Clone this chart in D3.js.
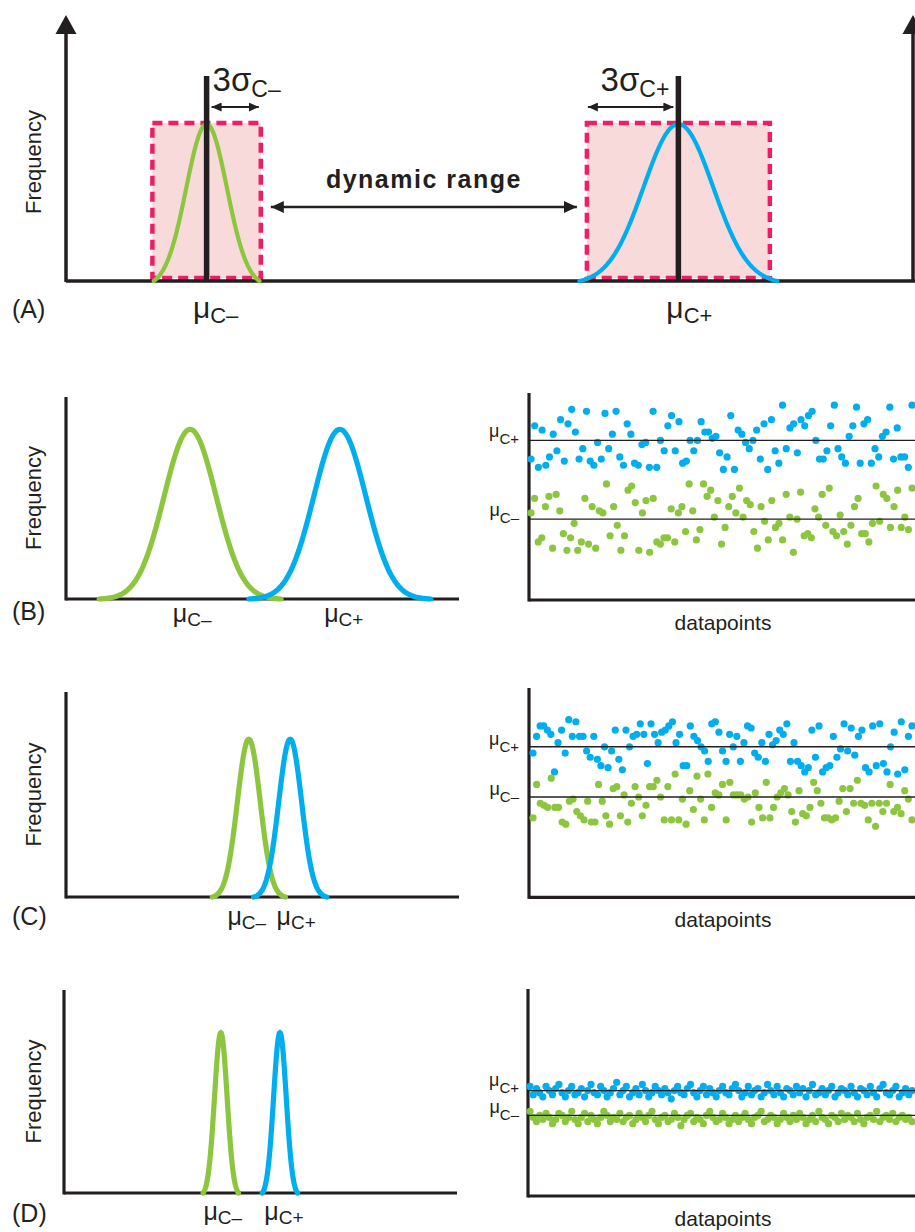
<!DOCTYPE html>
<html>
<head>
<meta charset="utf-8">
<script src="https://cdn.jsdelivr.net/npm/d3@7"></script>
<style>
  body { margin: 0; background: #fff; }
  svg { display: block; }
  text { font-family: "Liberation Sans", Arial, sans-serif; fill: #231f20; }
</style>
</head>
<body>
<script>
// panels A-D: two class distributions on a signal axis (0-100)
const panelNames = ["(A)", "(B)", "(C)", "(D)"];
const meanMinus = [16.6, 31.5, 46.4, 39.8];
const meanPlus = [72.3, 69.5, 56.9, 54.8];
const sigmaMinus = [2.4, 6.6, 2.9, 1.6];
const sigmaPlus = [4.1, 6.6, 2.9, 1.6];
const tailMinus = [2.6, 3.5, 3.2, 2.8];   // where each drawn curve stops, in sigmas
const tailPlus = [2.85, 3.5, 3.2, 2.8];
const peakFreq = [0.59, 0.84, 0.77, 0.79];
// panel A only: the pink 3 sigma windows (half widths, signal units)
const windowHalf = [6.4, 10.8];

// scatter panels B-D, signal 0-10
const scatterMeanPlus = [7.7, 7.2, 5.1];
const scatterMeanMinus = [3.9, 4.8, 3.9];

const bPlus = [6.8,8.4,6.4,8.2,6.5,6.9,8.0,7.2,8.7,6.7,8.5,9.2,8.1,6.8,7.3,9.1,6.7,6.5,7.6,6.8,9.0,7.3,8.0,9.1,6.9,6.5,8.5,8.0,6.6,6.5,7.5,7.6,6.4,9.1,6.4,7.7,7.2,8.4,8.9,7.2,8.6,6.6,6.7,7.7,7.2,7.7,8.6,8.1,8.1,7.8,7.9,7.1,6.3,6.9,8.9,6.3,8.2,8.0,7.6,7.3,7.7,8.2,6.8,8.5,6.3,8.7,7.2,6.6,9.4,7.3,8.3,8.5,7.1,8.7,8.4,8.9,9.1,7.7,6.8,6.8,7.2,8.4,9.4,7.3,6.9,6.6,7.9,8.4,9.3,6.6,8.5,8.7,6.6,7.3,6.9,7.9,8.1,9.3,6.8,8.3,6.9,6.9,6.4,9.4];
const bMinus = [4.2,4.9,2.8,3.0,4.5,5.0,2.5,5.1,4.3,3.2,2.4,3.0,3.7,2.4,2.8,4.9,2.7,4.5,2.5,4.3,4.2,5.6,3.1,4.5,3.6,2.4,3.1,5.3,5.5,4.7,2.4,4.2,4.8,2.3,4.9,2.8,2.7,3.0,3.0,4.4,2.8,4.2,4.5,3.3,5.6,4.3,2.9,3.4,5.6,5.0,5.3,4.0,4.8,2.7,3.5,4.5,5.0,4.2,5.4,4.0,4.8,4.6,3.3,2.5,4.5,3.8,2.9,4.8,3.5,3.7,2.9,5.1,4.0,2.3,3.9,5.2,3.1,3.2,3.0,4.4,4.0,5.1,3.6,5.4,3.3,3.1,4.1,3.3,2.7,3.6,4.5,4.9,3.2,3.2,2.8,3.7,5.5,3.8,5.1,4.9,3.5,4.5,5.3,3.5,4.0,3.4,5.4];
const cPlus = [6.9,7.7,8.2,8.2,8.0,7.8,6.0,7.4,8.0,6.9,8.5,7.7,8.4,7.7,7.7,7.0,6.7,7.7,6.6,6.3,7.2,6.2,7.0,8.0,6.6,6.1,8.0,7.2,7.7,7.8,8.3,7.8,6.4,8.3,7.8,7.4,7.9,8.0,8.2,8.4,7.4,7.8,6.3,6.3,8.2,7.7,7.5,7.2,7.0,6.5,8.3,8.4,7.9,7.0,6.5,7.8,7.2,7.7,6.5,7.4,8.2,8.1,6.9,6.7,7.4,6.5,7.8,7.3,7.5,8.0,7.8,8.3,6.5,7.4,6.5,6.3,6.0,6.2,8.0,6.7,8.2,6.0,6.2,6.3,7.7,6.7,7.1,8.3,7.0,8.1,6.8,7.7,8.0,6.2,6.0,8.2,6.3,8.3,6.4,6.0,7.2,7.9,5.9,8.4,6.1,7.7,8.2];
const cMinus = [3.8,5.4,4.5,4.4,4.3,5.7,4.3,4.3,3.6,3.5,4.6,4.7,4.1,3.9,3.7,4.6,3.6,3.6,5.4,4.6,3.9,3.5,5.2,5.3,3.9,4.9,3.6,4.5,5.3,4.8,3.9,4.4,5.3,5.3,5.6,4.8,3.7,5.3,3.7,5.9,3.7,4.7,3.5,5.1,4.2,5.8,4.7,3.7,5.9,4.3,5.0,4.9,5.4,3.7,5.5,4.9,4.9,4.9,4.7,4.8,3.6,5.0,4.3,3.8,5.5,3.8,4.3,4.8,5.0,5.2,4.9,4.1,3.6,5.1,4.0,3.9,4.3,5.5,5.1,4.5,3.8,3.8,3.7,3.8,4.6,5.2,4.1,5.2,4.5,5.6,4.5,4.4,3.7,4.5,3.4,4.5,4.1,4.5,5.4,4.1,4.3,4.0,5.1,4.7,3.7];
const dPlus = [5.3,4.9,5.2,5.0,4.8,5.3,5.1,4.9,5.2,5.4,5.0,4.8,5.1,5.3,4.9,5.0,5.2,4.8,5.1,5.4,
  5.0,4.9,5.3,5.1,4.8,5.0,5.2,5.5,4.9,5.1,5.3,4.8,5.0,5.2,4.9,5.4,5.1,4.8,5.0,5.3,
  5.1,4.9,5.2,5.0,4.7,5.1,5.3,5.0,4.9,5.2,5.4,5.0,4.8,5.1,5.3,4.9,5.2,5.0,4.8,5.1,
  5.3,5.0,4.9,5.2,5.4,5.1,4.8,5.0,5.3,4.9,5.1,5.2,4.8,5.0,5.4,5.1,4.9,5.3,5.0,4.8,
  5.2,5.1,4.9,5.3,5.0,5.2,4.8,5.1,5.4,4.9,5.0,5.2,4.9,5.1,5.3,4.8,5.0,5.2,5.1,4.9,
  5.3,5.0,4.8,5.2,5.1,4.9,5.3,5.0,4.8,5.2,5.4,5.0,4.9,5.1,5.3,4.8,5.0,5.2,4.9,5.1];
const dMinus = [4.1,3.8,3.6,3.9,3.7,4.0,3.8,3.5,3.7,4.0,3.9,3.6,3.8,4.1,3.7,3.5,3.8,4.0,3.6,3.9,
  3.7,3.5,3.8,4.1,3.9,3.6,3.8,3.7,4.0,3.6,3.8,3.9,3.5,3.7,4.0,3.8,3.6,3.9,4.1,3.7,
  3.5,3.8,3.9,3.6,3.7,4.0,3.8,3.4,3.7,3.9,4.0,3.6,3.8,3.7,3.5,3.9,4.1,3.8,3.6,3.7,
  4.0,3.8,3.5,3.7,3.9,3.6,3.8,4.0,3.7,3.5,3.8,3.9,4.1,3.6,3.7,3.9,3.8,3.5,3.7,4.0,
  3.8,3.6,3.9,3.7,4.0,3.8,3.5,3.7,3.9,3.6,4.1,3.8,3.7,3.5,3.9,3.8,3.6,4.0,3.7,3.9,
  3.8,3.6,4.0,3.7,3.5,3.8,3.9,3.7,4.1,3.6,3.8,3.9,3.7,4.0,3.6,3.8,3.9,3.7,3.8,3.6];
const scatterPlus = [bPlus, cPlus, dPlus];
const scatterMinus = [bMinus, cMinus, dMinus];

const GREEN = "#8cc63f", BLUE = "#00aeef", INK = "#231f20";
const PINK = "#ed1e63", PINK_FILL = "#f9dada";

const svg = d3.select("body").append("svg")
    .attr("width", 915)
    .attr("height", 1232);

const defs = svg.append("defs");
function addArrow(id, w, h) {
  defs.append("marker")
      .attr("id", id)
      .attr("viewBox", `0 0 ${w} ${h}`)
      .attr("refX", w).attr("refY", h / 2)
      .attr("markerWidth", w).attr("markerHeight", h)
      .attr("markerUnits", "userSpaceOnUse")
      .attr("orient", "auto-start-reverse")
    .append("path")
      .attr("d", `M0,0 L${w},${h / 2} L0,${h} Z`)
      .attr("fill", INK);
}
addArrow("arrowBig", 13, 12);
addArrow("arrowSmall", 10, 9);

// frequency panel layouts (pixels)
const freqLayout = [
  { x0: 66, x1: 913, y0: 281, y1: 15, lineEnd: 915, curveW: 4.2, axisW: 3.5 },
  { x0: 66, x1: 460, y0: 599, y1: 397, lineEnd: 459, curveW: 5.2, axisW: 3.2 },
  { x0: 66, x1: 460, y0: 897, y1: 692, lineEnd: 459, curveW: 5.2, axisW: 3.2 },
  { x0: 64, x1: 458, y0: 1193, y1: 990, lineEnd: 457, curveW: 5.2, axisW: 3.2 }
];
const scatterLayout = [
  { ax: 529, y0: 600, y1: 392.7, top: 393, px0: 531, px1: 912, labelOffset: [-3, -3] },
  { ax: 529, y0: 897.3, y1: 688.3, top: 688, px0: 533, px1: 912, labelOffset: [-2, -2] },
  { ax: 528, y0: 1196, y1: 989.3, top: 989, px0: 530, px1: 912, labelOffset: [-5, -2] }
];
const muLabelStyle = [
  { mu: 30, sub: 22, dy: 5, base: 318 },
  { mu: 25, sub: 19, dy: 4, base: 622 },
  { mu: 25, sub: 19, dy: 4, base: 925 },
  { mu: 25, sub: 19, dy: 4, base: 1220 }
];
const letterBase = [318, 620, 925, 1222];

function muLabel(g, x, y, sign, muSize, subSize, dy, anchor) {
  const t = g.append("text")
      .attr("x", x).attr("y", y)
      .attr("text-anchor", anchor);
  t.append("tspan").attr("font-size", muSize).text("μ");
  t.append("tspan").attr("font-size", subSize).attr("dy", dy).text("C" + sign);
  return t;
}

function curveData(mu, sigma, k, peak) {
  const edge = Math.exp(-k * k / 2);
  return d3.range(0, 121).map(i => {
    const z = -k + (2 * k) * i / 120;
    return [mu + z * sigma, peak * (Math.exp(-z * z / 2) - edge) / (1 - edge)];
  });
}

panelNames.forEach((name, p) => {
  const L = freqLayout[p];
  const g = svg.append("g");
  const x = d3.scaleLinear().domain([0, 100]).range([L.x0, L.x1]);
  const y = d3.scaleLinear().domain([0, 1]).range([L.y0, L.y1]);
  const line = d3.line().x(d => x(d[0])).y(d => y(d[1]));

  // axes
  if (p === 0) {
    [L.x0, L.x1].forEach(ax => {
      g.append("line")
          .attr("x1", ax).attr("x2", ax)
          .attr("y1", y(0) + 1).attr("y2", y(1) + 14)
          .attr("stroke", INK).attr("stroke-width", L.axisW);
      g.append("path")
          .attr("d", `M${ax},${y(1)} L${ax - 10.5},${y(1) + 19} L${ax + 10.5},${y(1) + 19} Z`)
          .attr("fill", INK);
    });
  } else {
    g.append("line")
        .attr("x1", L.x0).attr("x2", L.x0)
        .attr("y1", y(0) + 1.5).attr("y2", y(1))
        .attr("stroke", INK).attr("stroke-width", L.axisW);
  }

  // 3 sigma windows (panel A)
  if (p === 0) {
    [[meanMinus[0], windowHalf[0]], [meanPlus[0], windowHalf[1]]].forEach(([m, h]) => {
      g.append("rect")
          .attr("x", x(m - h)).attr("y", y(peakFreq[0]) - 1)
          .attr("width", x(m + h) - x(m - h))
          .attr("height", y(0) - 3 - y(peakFreq[0]) + 1)
          .attr("fill", PINK_FILL)
          .attr("stroke", PINK).attr("stroke-width", 4.5)
          .attr("stroke-dasharray", "10,6");
    });
  }

  g.append("line")
      .attr("x1", L.x0).attr("x2", L.lineEnd)
      .attr("y1", y(0)).attr("y2", y(0))
      .attr("stroke", INK).attr("stroke-width", L.axisW);

  // distributions
  g.append("path")
      .attr("d", line(curveData(meanMinus[p], sigmaMinus[p], tailMinus[p], peakFreq[p])))
      .attr("fill", "none").attr("stroke", GREEN)
      .attr("stroke-width", L.curveW).attr("stroke-linecap", "round");
  g.append("path")
      .attr("d", line(curveData(meanPlus[p], sigmaPlus[p], tailPlus[p], peakFreq[p])))
      .attr("fill", "none").attr("stroke", BLUE)
      .attr("stroke-width", L.curveW).attr("stroke-linecap", "round");

  // labels
  const S = muLabelStyle[p];
  const shift = p === 0 ? 9 : 2;
  muLabel(g, x(meanMinus[p]) + shift - (p === 2 ? 4 : 0), S.base, "–", S.mu, S.sub, S.dy, "middle");
  muLabel(g, x(meanPlus[p]) + shift + (p === 2 ? 4 : 2), S.base, "+", S.mu, S.sub, S.dy, "middle");

  g.append("text")
      .attr("x", 12).attr("y", letterBase[p])
      .attr("font-size", 25)
      .text(name);

  const fy = (y(0) + y(1)) / 2 + (p === 0 ? 14 : 0);
  g.append("text")
      .attr("transform", `translate(41,${fy}) rotate(-90)`)
      .attr("text-anchor", "middle")
      .attr("font-size", 22)
      .text("Frequency");

  if (p === 0) {
    // mean markers, 3 sigma arrows, dynamic range
    [meanMinus[0], meanPlus[0]].forEach(m => {
      g.append("line")
          .attr("x1", x(m)).attr("x2", x(m))
          .attr("y1", y(0) + 1).attr("y2", 76)
          .attr("stroke", INK).attr("stroke-width", 5.5);
    });
    g.append("line")
        .attr("x1", x(meanMinus[0]) + 5).attr("x2", x(meanMinus[0] + windowHalf[0]) - 2)
        .attr("y1", 107).attr("y2", 107)
        .attr("stroke", INK).attr("stroke-width", 2.2)
        .attr("marker-start", "url(#arrowSmall)").attr("marker-end", "url(#arrowSmall)");
    g.append("line")
        .attr("x1", x(meanPlus[0] - windowHalf[1]) + 1).attr("x2", x(meanPlus[0]) - 5)
        .attr("y1", 107).attr("y2", 107)
        .attr("stroke", INK).attr("stroke-width", 2.2)
        .attr("marker-start", "url(#arrowSmall)").attr("marker-end", "url(#arrowSmall)");

    const s1 = g.append("text").attr("x", x(meanMinus[0]) + 6).attr("y", 91);
    s1.append("tspan").attr("font-size", 33).text("3σ");
    s1.append("tspan").attr("font-size", 23).attr("dy", 6).text("C–");
    const s2 = g.append("text").attr("x", x(meanPlus[0]) - 9).attr("y", 91).attr("text-anchor", "end");
    s2.append("tspan").attr("font-size", 33).text("3σ");
    s2.append("tspan").attr("font-size", 23).attr("dy", 6).text("C+");

    const dl = x(meanMinus[0] + windowHalf[0]) + 10;
    const dr = x(meanPlus[0] - windowHalf[1]) - 10;
    g.append("line")
        .attr("x1", dl).attr("x2", dr)
        .attr("y1", 207).attr("y2", 207)
        .attr("stroke", INK).attr("stroke-width", 2.5)
        .attr("marker-start", "url(#arrowBig)").attr("marker-end", "url(#arrowBig)");
    g.append("text")
        .attr("x", (dl + dr) / 2).attr("y", 188)
        .attr("text-anchor", "middle")
        .attr("font-family", "'Open Sans', sans-serif")
        .attr("font-weight", 700)
        .attr("font-size", 25)
        .attr("letter-spacing", 1.5)
        .text("dynamic range");
  }
});

// scatter panels
scatterLayout.forEach((L, s) => {
  const g = svg.append("g");
  const y = d3.scaleLinear().domain([0, 10]).range([L.y0, L.y1]);

  g.append("line")
      .attr("x1", L.ax).attr("x2", L.ax)
      .attr("y1", y(0) + 1.5).attr("y2", L.top)
      .attr("stroke", INK).attr("stroke-width", 3.2);
  g.append("line")
      .attr("x1", L.ax).attr("x2", 915)
      .attr("y1", y(0)).attr("y2", y(0))
      .attr("stroke", INK).attr("stroke-width", 3.2);

  [[scatterPlus[s], BLUE], [scatterMinus[s], GREEN]].forEach(([vals, col]) => {
    const x = d3.scaleLinear().domain([0, vals.length - 1]).range([L.px0, L.px1]);
    g.append("g").selectAll("circle")
        .data(vals)
        .join("circle")
        .attr("cx", (d, i) => x(i))
        .attr("cy", d => y(d))
        .attr("r", 3.6)
        .attr("fill", col);
  });

  [[scatterMeanPlus[s], "+", 0], [scatterMeanMinus[s], "–", 1]].forEach(([m, sign, k]) => {
    g.append("line")
        .attr("x1", L.ax).attr("x2", 915)
        .attr("y1", y(m)).attr("y2", y(m))
        .attr("stroke", INK).attr("stroke-width", 1.4);
    muLabel(g, 519, y(m) + L.labelOffset[k], sign, 18, 15, 7, "end");
  });

  g.append("text")
      .attr("x", 723).attr("y", y(0) + 30)
      .attr("text-anchor", "middle")
      .attr("font-size", 21)
      .text("datapoints");
});
</script>
</body>
</html>
